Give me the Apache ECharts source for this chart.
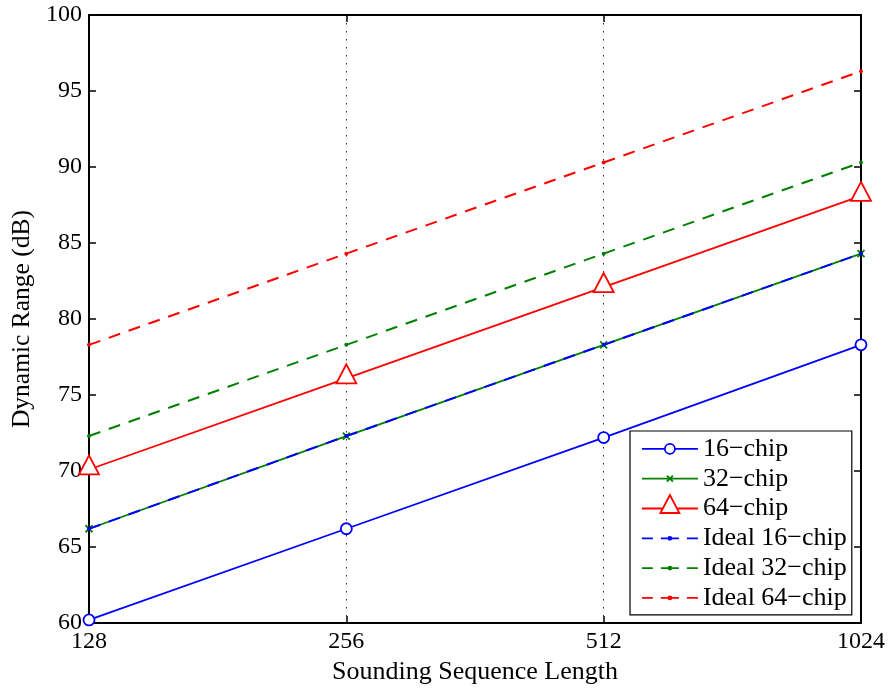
<!DOCTYPE html>
<html><head><meta charset="utf-8">
<script src="https://cdn.jsdelivr.net/npm/echarts@6/dist/echarts.min.js"></script>
<style>html,body{margin:0;padding:0;background:#fff}#c{width:890px;height:690px}</style>
</head><body><div id="c"></div>
<script>
const categories = ['128','256','512','1024'];
const chip16 = [60.2, 66.2, 72.2, 78.3];
const chip32 = [66.2, 72.3, 78.3, 84.3];
const chip64 = [70.1, 76.1, 82.1, 88.1];
const ideal16 = [66.2, 72.3, 78.3, 84.3];
const ideal32 = [72.3, 78.3, 84.3, 90.3];
const ideal64 = [78.3, 84.3, 90.3, 96.3];
const seriesNames = ['16\u2212chip','32\u2212chip','64\u2212chip','Ideal 16\u2212chip','Ideal 32\u2212chip','Ideal 64\u2212chip'];
const yTicks = {min: 60, max: 100, interval: 5};

const FONT = 'Liberation Serif';
const BLUE = '#0000ff', GREEN = '#008000', RED = '#ff0000';
const chart = echarts.init(document.getElementById('c'));
const tick = {show: true, inside: true, length: 7, lineStyle: {color: '#000', width: 1.5}};
const axLine = {show: true, onZero: false, lineStyle: {color: '#000', width: 2}};

const BOX = 'M0,0M56,28';
const iconCircle = 'path://' + BOX + 'M0,14L23,14M33,14L56,14M23,14A5,5 0 1,0 33,14A5,5 0 1,0 23,14';
const iconCross = 'path://' + BOX + 'M0,14L56,14M25,11L31,17M31,11L25,17';
const iconTri = 'path://' + BOX + 'M0,14L20.9,14M35.1,14L56,14M28,0.5L37.5,18.5L18.5,18.5Z';
const iconDash = 'path://' + BOX + 'M0,14L11,14M19,14L37,14M45,14L56,14M26.5,14A1.5,1.5 0 1,0 29.5,14A1.5,1.5 0 1,0 26.5,14';

function solid(name, data, color, symbol, size, offset) {
  return {name, type: 'line', data, symbol, symbolSize: size, symbolOffset: offset || [0, 0], showSymbol: true,
    lineStyle: {color, width: 1.8, type: 'solid'},
    itemStyle: {color: (symbol === 'circle' || symbol === 'triangle') ? '#fff' : color, borderColor: color, borderWidth: 1.8},
    emphasis: {disabled: true}, z: 3};
}
function dashed(name, data, color) {
  return {name, type: 'line', data, symbol: 'circle', symbolSize: 4, showSymbol: true,
    lineStyle: {color, width: 2, type: [12, 9]},
    itemStyle: {color, borderColor: color, borderWidth: 0},
    emphasis: {disabled: true}, z: 4};
}
function legItem(name, icon, color, fill) {
  return {name, icon, itemStyle: {color: fill, borderColor: color, borderWidth: 1.8}};
}
chart.setOption({
  animation: false,
  backgroundColor: '#fff',
  grid: {left: 89, right: 29, top: 15, bottom: 66, containLabel: false},
  xAxis: [{
    type: 'category', data: categories, boundaryGap: false,
    name: 'Sounding Sequence Length', nameLocation: 'middle', nameGap: 36,
    nameTextStyle: {fontFamily: FONT, fontSize: 26, color: '#000'},
    axisLine: axLine, axisTick: Object.assign({alignWithLabel: true}, tick),
    axisLabel: {fontFamily: FONT, fontSize: 24, color: '#000', margin: 7},
    splitLine: {show: true, lineStyle: {color: '#222', type: [1.5, 6.5], width: 1}}
  }, {
    type: 'category', data: categories, boundaryGap: false, position: 'top',
    axisLine: axLine, axisTick: tick, axisLabel: {show: false}, splitLine: {show: false}
  }],
  yAxis: [{
    type: 'value', min: yTicks.min, max: yTicks.max, interval: yTicks.interval,
    name: 'Dynamic Range (dB)', nameLocation: 'middle', nameGap: 54,
    nameTextStyle: {fontFamily: FONT, fontSize: 25.5, color: '#000'},
    axisLine: axLine, axisTick: tick,
    axisLabel: {fontFamily: FONT, fontSize: 24, color: '#000', margin: 7},
    splitLine: {show: false}
  }, {
    type: 'value', min: yTicks.min, max: yTicks.max, interval: yTicks.interval, position: 'right',
    axisLine: axLine, axisTick: tick, axisLabel: {show: false}, splitLine: {show: false}
  }],
  legend: {
    orient: 'vertical', left: 630, top: 431,
    padding: [3, 5, 2, 11], itemWidth: 56, itemHeight: 28, itemGap: 0,
    backgroundColor: '#fff', borderColor: '#000', borderWidth: 1.2, borderRadius: 0,
    textStyle: {fontFamily: FONT, fontSize: 26, color: '#000', lineHeight: 28},
    data: [
      legItem(seriesNames[0], iconCircle, BLUE, '#fff'),
      legItem(seriesNames[1], iconCross, GREEN, GREEN),
      legItem(seriesNames[2], iconTri, RED, '#fff'),
      legItem(seriesNames[3], iconDash, BLUE, BLUE),
      legItem(seriesNames[4], iconDash, GREEN, GREEN),
      legItem(seriesNames[5], iconDash, RED, RED)
    ]
  },
  series: [
    solid(seriesNames[0], chip16, BLUE, 'circle', 11),
    solid(seriesNames[1], chip32, GREEN, 'path://M0,0L10,10M10,0L0,10', 7),
    solid(seriesNames[2], chip64, RED, 'triangle', [20, 19], [0, -4.5]),
    dashed(seriesNames[3], ideal16, BLUE),
    dashed(seriesNames[4], ideal32, GREEN),
    dashed(seriesNames[5], ideal64, RED)
  ]
});
</script></body></html>
